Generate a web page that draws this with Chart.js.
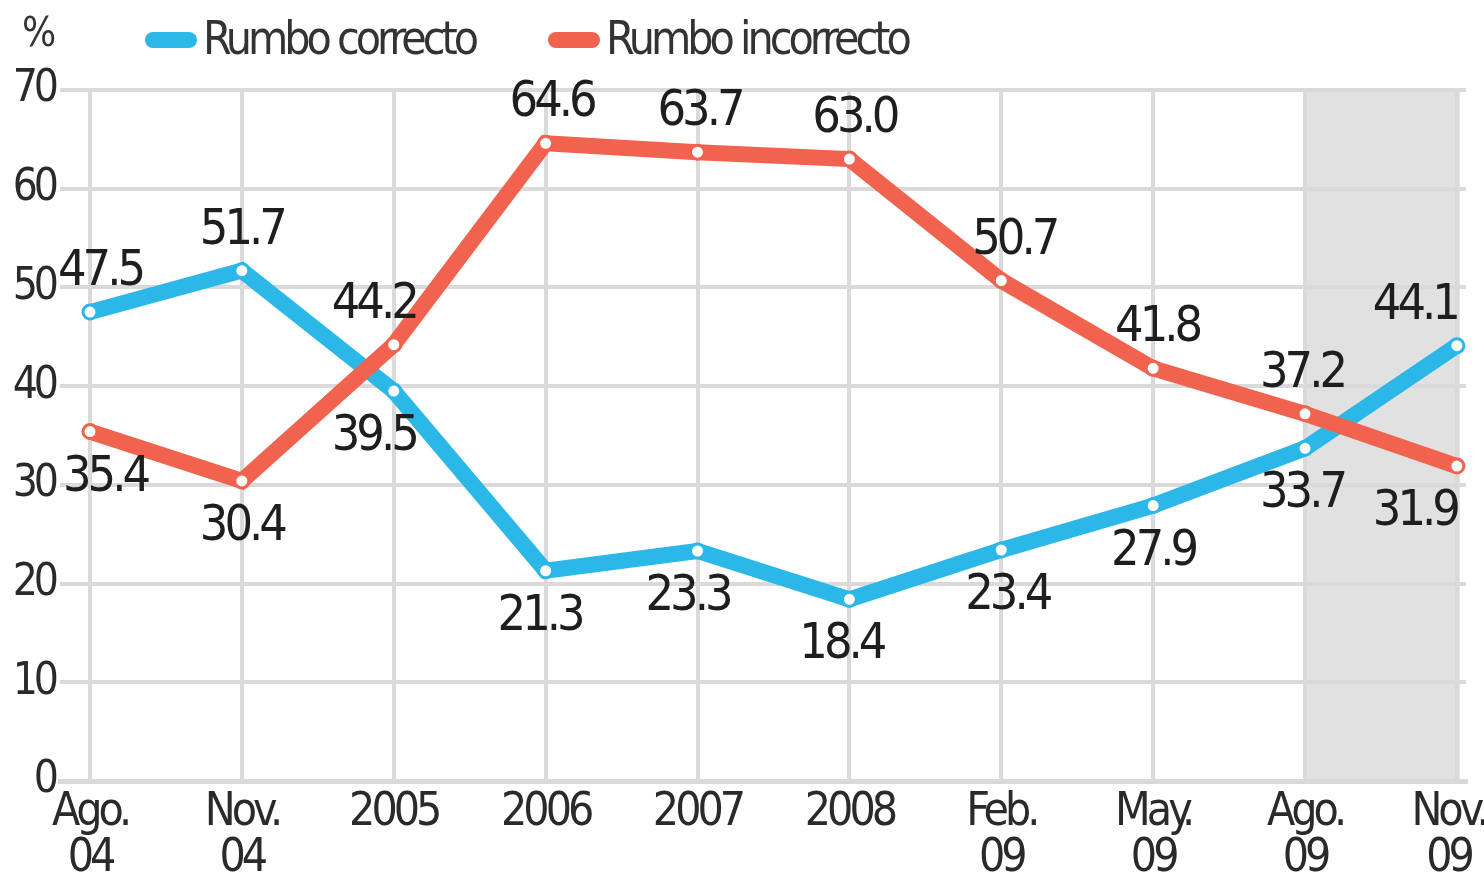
<!DOCTYPE html>
<html>
<head>
<meta charset="utf-8">
<script src="https://cdn.jsdelivr.net/npm/chart.js@4.4.1/dist/chart.umd.min.js"></script>
<style>
html, body { margin: 0; padding: 0; background: #fff; }
#wrap { width: 1484px; height: 880px; }
</style>
</head>
<body>
<div id="wrap"><canvas id="myChart" width="1484" height="880"></canvas></div>
<script>
// datos
var periodos = [["Ago.", "04"], ["Nov.", "04"], "2005", "2006", "2007", "2008", ["Feb.", "09"], ["May.", "09"], ["Ago.", "09"], ["Nov.", "09"]];
var rumboCorrecto = [47.5, 51.7, 39.5, 21.3, 23.3, 18.4, 23.4, 27.9, 33.7, 44.1];
var rumboIncorrecto = [35.4, 30.4, 44.2, 64.6, 63.7, 63.0, 50.7, 41.8, 37.2, 31.9];
var yTicks = [0, 10, 20, 30, 40, 50, 60, 70];

// donde va cada etiqueta: arriba (1) o abajo (-1)
var ladoCorrecto = [1, 1, -1, -1, -1, -1, -1, -1, -1, 1];
var ladoIncorrecto = [-1, -1, 1, 1, 1, 1, 1, 1, 1, -1];
var dxCorrecto = [10, 0, -20, -6, -10, -8, 6, 0, -3, -42];
var dxIncorrecto = [15, 0, -20, 6, 2, 5, 13, 4, -3, -42];

var AZUL = '#2bb8e9';
var ROJO = '#f2634f';
var FUENTE = "'DejaVu Sans Condensed', 'DejaVu Sans', sans-serif";
var ESPACIADO = '-4px';

function puntos(arr) {
	return arr.map(function (v, i) { return { x: i, y: v }; });
}

var fondoPlugin = {
	id: 'fondo',
	beforeDraw: function (chart) {
		var ctx = chart.ctx, x = chart.scales.x, a = chart.chartArea;
		// texto mas estrecho para todo el grafico
		ctx.letterSpacing = ESPACIADO;
		ctx.save();
		ctx.fillStyle = '#e1e1e1';
		var x0 = x.getPixelForValue(8), x1 = x.getPixelForValue(9);
		ctx.fillRect(x0, a.top, x1 - x0 + 3, a.bottom - a.top);
		ctx.restore();
	}
};

var etiquetasPlugin = {
	id: 'etiquetas',
	afterDatasetsDraw: function (chart) {
		var ctx = chart.ctx;
		var lados = [ladoCorrecto, ladoIncorrecto];
		var dxs = [dxCorrecto, dxIncorrecto];
		ctx.save();
		ctx.letterSpacing = ESPACIADO;
		ctx.font = '50px ' + FUENTE;
		ctx.fillStyle = '#1e1e1e';
		ctx.textAlign = 'center';
		ctx.textBaseline = 'middle';
		chart.data.datasets.forEach(function (ds, d) {
			var meta = chart.getDatasetMeta(d);
			meta.data.forEach(function (p, i) {
				var dy = lados[d][i] > 0 ? -40 : 46;
				ctx.fillText(ds.data[i].y.toFixed(1), p.x + dxs[d][i], p.y + dy);
			});
		});
		// leyenda y unidad
		ctx.textAlign = 'left';
		ctx.fillStyle = '#333';
		ctx.font = '40px ' + FUENTE;
		ctx.fillText('%', 22, 36);
		chart.data.datasets.forEach(function (ds, d) {
			var lx = d === 0 ? 145 : 548;
			ctx.strokeStyle = ds.borderColor;
			ctx.lineWidth = 16;
			ctx.lineCap = 'round';
			ctx.beginPath();
			ctx.moveTo(lx + 8, 40);
			ctx.lineTo(lx + 44, 40);
			ctx.stroke();
			ctx.fillStyle = '#333';
			ctx.font = '46px ' + FUENTE;
			ctx.fillText(ds.label, lx + 58, 42);
		});
		ctx.restore();
	}
};

var myChart = new Chart(document.getElementById('myChart').getContext('2d'), {
	type: 'line',
	data: {
		datasets: [{
			label: 'Rumbo correcto',
			data: puntos(rumboCorrecto),
			borderColor: AZUL,
			backgroundColor: AZUL,
			borderWidth: 16,
			pointRadius: 7,
			pointBorderWidth: 3,
			pointBackgroundColor: '#fff',
			pointBorderColor: AZUL,
			order: 1
		}, {
			label: 'Rumbo incorrecto',
			data: puntos(rumboIncorrecto),
			borderColor: ROJO,
			backgroundColor: ROJO,
			borderWidth: 16,
			pointRadius: 7,
			pointBorderWidth: 3,
			pointBackgroundColor: '#fff',
			pointBorderColor: ROJO,
			order: 0
		}]
	},
	options: {
		responsive: false,
		animation: false,
		layout: { padding: { top: 90, right: 18, left: 0, bottom: 0 } },
		plugins: { legend: { display: false }, tooltip: { enabled: false } },
		scales: {
			x: {
				type: 'linear',
				min: -0.1975,
				max: 9.06,
				afterBuildTicks: function (s) {
					s.ticks = periodos.map(function (p, i) { return { value: i }; });
				},
				afterFit: function (s) {
					s.height = 99;
					s.paddingLeft = 0;
					s.paddingRight = 0;
				},
				border: { display: true, color: '#d9d9d9', width: 5 },
				grid: { color: '#dadada', lineWidth: 4, drawTicks: false },
				ticks: {
					padding: 9,
					maxRotation: 0,
					autoSkip: false,
					color: '#2a2a2a',
					font: { family: FUENTE, size: 46, lineHeight: 1.0 },
					callback: function (v) {
						var l = periodos[v];
						// la ultima se corre un poco a la izquierda para que no se corte
						if (v === periodos.length - 1) {
							return l.map(function (t) { return t + '\u2002'; });
						}
						return l;
					}
				}
			},
			y: {
				min: 0,
				max: 70,
				afterBuildTicks: function (s) {
					s.ticks = yTicks.map(function (v) { return { value: v }; });
				},
				afterFit: function (s) {
					s.width = 60;
					s.paddingTop = 0;
					s.paddingBottom = 0;
				},
				border: { display: false },
				grid: { color: '#dadada', lineWidth: 4, drawTicks: false },
				ticks: {
					padding: 5,
					color: '#2a2a2a',
					font: { family: FUENTE, size: 44 }
				}
			}
		}
	},
	plugins: [fondoPlugin, etiquetasPlugin]
});
</script>
</body>
</html>
